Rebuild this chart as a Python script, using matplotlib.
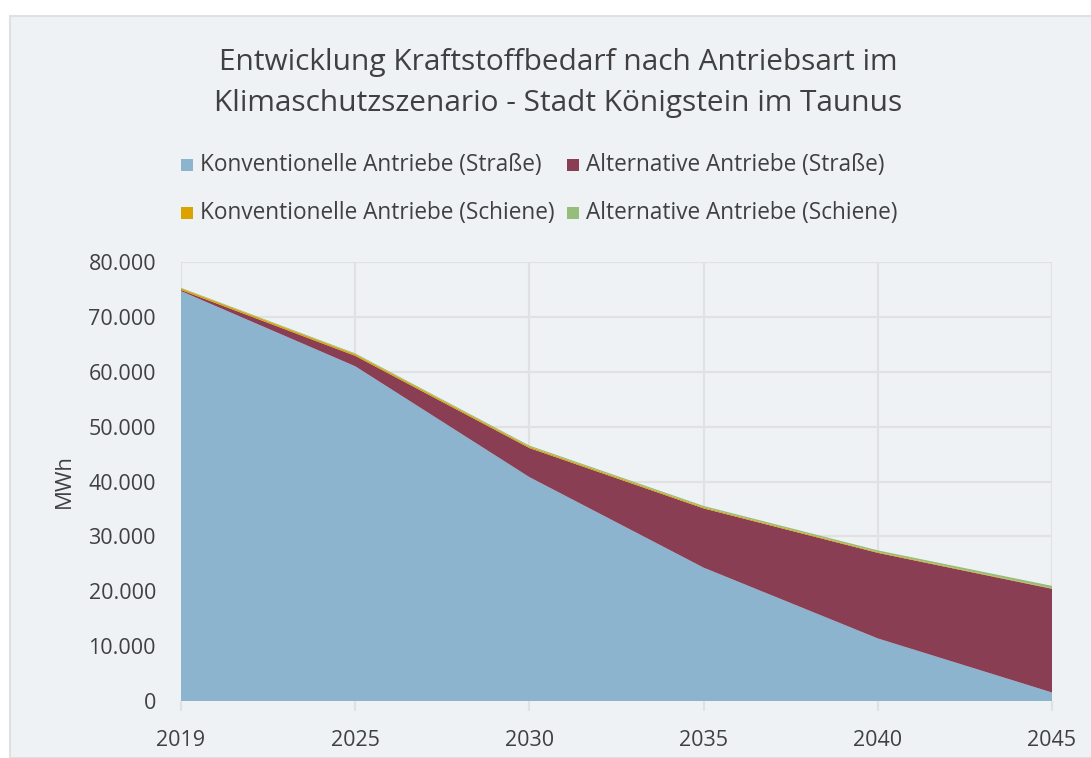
import matplotlib
matplotlib.use("Agg")
import matplotlib.pyplot as plt
from matplotlib.patches import Rectangle
import numpy as np

plt.rcParams['font.family'] = ['Open Sans', 'DejaVu Sans']

years = ["2019", "2025", "2030", "2035", "2040", "2045"]
konv_strasse = [74700, 61000, 40800, 24300, 11400, 1550]
alt_strasse = [200, 1900, 5300, 10800, 15600, 18900]
konv_schiene = [300, 300, 250, 200, 150, 80]
alt_schiene = [100, 150, 200, 250, 300, 450]

series_names = [
    "Konventionelle Antriebe (Straße)",
    "Alternative Antriebe (Straße)",
    "Konventionelle Antriebe (Schiene)",
    "Alternative Antriebe (Schiene)",
]
colors = ["#8CB4CF", "#8A3E53", "#DBA300", "#96BD7A"]
y_ticks = list(range(0, 80001, 10000))

W, H = 1091, 758
fig = plt.figure(figsize=(W / 100, H / 100), dpi=100)
fig.patch.set_facecolor("white")

# chart panel
panel = Rectangle((10 / W, 0), 1.2, 1 - 16 / H, transform=fig.transFigure,
                  facecolor="#EEF2F5", edgecolor="#E0E0E0", linewidth=1.5,
                  zorder=-10)
fig.patches.append(panel)

ax = fig.add_axes([181 / W, 1 - 701 / H, (1052 - 181) / W, (701 - 262) / H])
ax.set_facecolor("none")

x = np.arange(len(years))
ax.stackplot(x, konv_strasse, alt_strasse, konv_schiene, alt_schiene,
             colors=colors, linewidth=0, zorder=3)

ax.set_xlim(0, len(years) - 1)
ax.set_ylim(0, 80000)
ax.set_xticks(x)
ax.set_xticklabels(years)
ax.set_yticks(y_ticks)
ax.set_yticklabels([f"{v:,}".replace(",", ".") for v in y_ticks])

grid_c = "#E1E1E1"
ax.grid(True, color=grid_c, linewidth=1.6, zorder=0)
ax.set_axisbelow(True)
for s in ax.spines.values():
    s.set_visible(False)
ax.tick_params(axis="x", length=7, width=1.6, color=grid_c, pad=14,
               labelsize=15.5, labelcolor="#404040")
ax.tick_params(axis="y", length=0, pad=18, labelsize=15.5, labelcolor="#404040")
ax.set_ylabel("MWh", fontsize=16, color="#404040", labelpad=10)

fig.text(558 / W, 1 - 83 / H,
         "Entwicklung Kraftstoffbedarf nach Antriebsart im\nKlimaschutzszenario - Stadt Königstein im Taunus",
         ha="center", va="center", fontsize=21.5, color="#404040", linespacing=1.58)

# legend
leg_pos = [(181, 165), (567, 165), (181, 213), (567, 213)]
sq = 12
for (px, py), name, c in zip(leg_pos, series_names, colors):
    fig.patches.append(Rectangle((px / W, 1 - (py + sq / 2) / H), sq / W, sq / H,
                                 transform=fig.transFigure, facecolor=c,
                                 edgecolor="none"))
    fig.text((px + sq + 7) / W, 1 - py / H, name, ha="left", va="center",
             fontsize=16.3, color="#404040")

fig.savefig("out.png", dpi=100)
